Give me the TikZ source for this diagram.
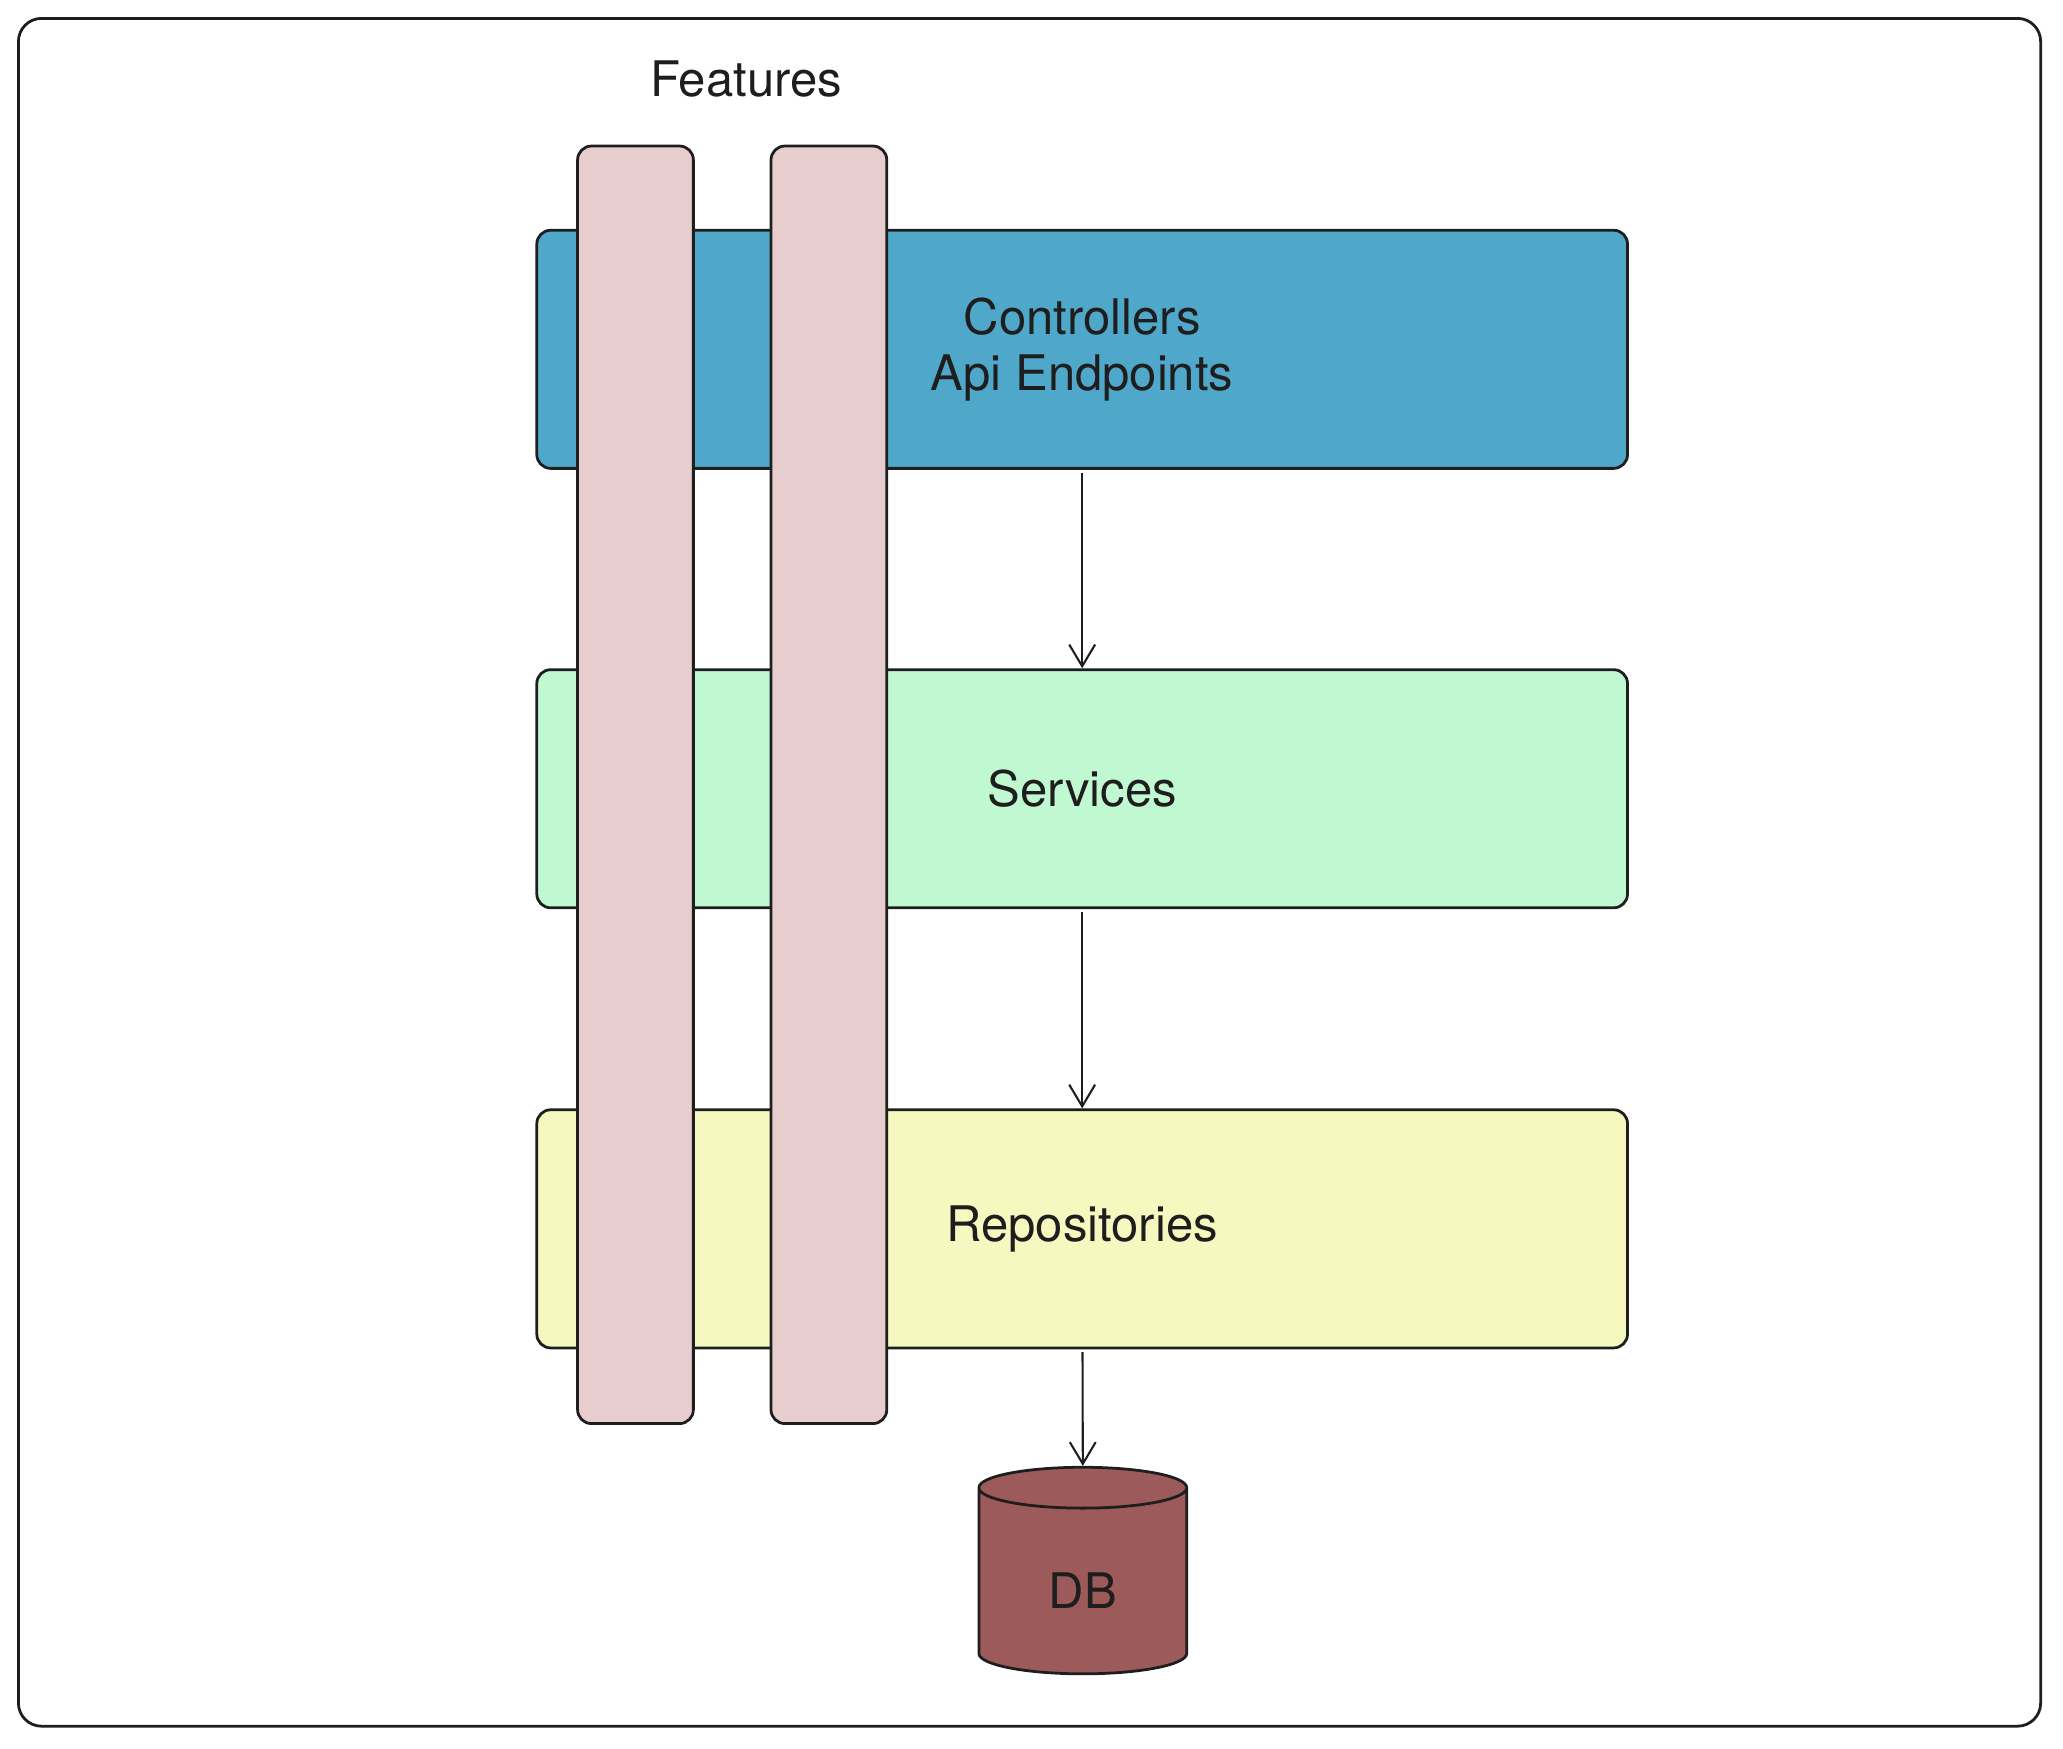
\documentclass[tikz,border=0pt]{standalone}
\usepackage{fontspec}
\setmainfont{TeX Gyre Heros}
\definecolor{ink}{HTML}{1E1E1E}
\definecolor{ctrlblue}{HTML}{4FA8C9}
\definecolor{svcgreen}{HTML}{C0F8D2}
\definecolor{repoyellow}{HTML}{F6F8C0}
\definecolor{featpink}{HTML}{E8CDCF}
\definecolor{dbred}{HTML}{9C5A5A}
\usetikzlibrary{arrows.meta,shapes.geometric}

\begin{document}
\begin{tikzpicture}[
    x=1cm, y=-1cm, >={Straight Barb[length=4.7pt,width=5.6pt]},
    every node/.append style={font=\fontsize{10.6}{12.2}\selectfont, text=ink},
    layer/.style={draw=ink, line width=0.6pt, rounded corners=3pt, minimum width=8.29cm, minimum height=1.81cm, align=center},
    feature/.style={draw=ink, line width=0.6pt, fill=featpink, rounded corners=3pt, minimum width=0.88cm, minimum height=9.71cm},
    flow/.style={->, draw=ink, line width=0.45pt, shorten <=0.6pt}
]
    \useasboundingbox (0,0) rectangle (15.68,13.29);
    \node[draw=ink, line width=0.6pt, rounded corners=5pt, minimum width=15.37cm, minimum height=12.98cm] (frame) at (7.825,6.63) {};

    \node[layer, fill=ctrlblue] (ctrl) at (8.225,2.655) {Controllers\\Api Endpoints};
    \node[layer, fill=svcgreen] (svc) at (8.225,5.995) {Services};
    \node[layer, fill=repoyellow] (repo) at (8.225,9.34) {Repositories};

    \node[feature] (feat1) at (4.83,5.965) {};
    \node[feature] (feat2) at (6.30,5.965) {};
    \node (features) at (5.67,0.60) {Features};

    \node[cylinder, shape border rotate=90, aspect=0.6, draw=ink, line width=0.6pt, fill=dbred,
          minimum width=1.58cm, minimum height=1.57cm, inner sep=0pt] (db) at (8.23,12.02) {\raisebox{-2pt}[\height][\depth]{DB}};

    \path[flow] (ctrl) -- (svc);
    \path[flow] (svc) -- (repo);
    \path[flow] (repo) -- (db.top);
\end{tikzpicture}
\end{document}
